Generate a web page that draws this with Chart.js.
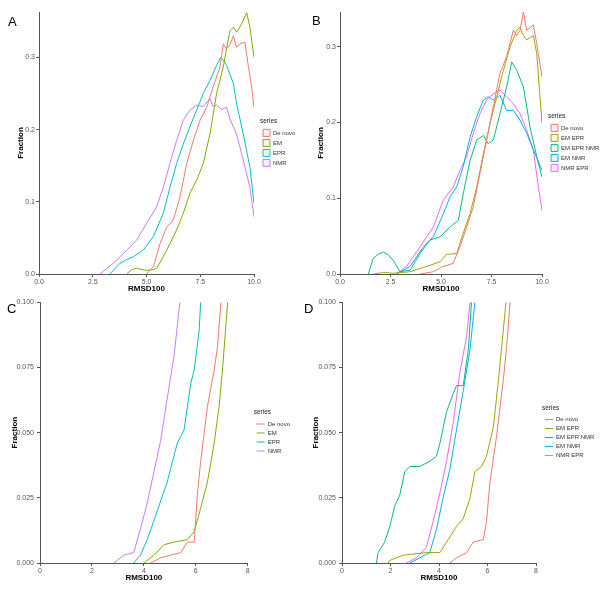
<!DOCTYPE html>
<html>
<head>
<meta charset="utf-8">
<script src="https://cdn.jsdelivr.net/npm/chart.js@4.4.1/dist/chart.umd.min.js"></script>
<style>
  body { margin: 0; background: #fff; }
  #wrap { position: relative; width: 604px; height: 591px; }
  canvas { position: absolute; }
  .tag { position: absolute; font: 13px/13px "Liberation Sans", Arial, sans-serif; color: #000; }
</style>
</head>
<body>
<div id="wrap">
  <canvas id="chartA" width="300" height="295" style="left:0;top:0"></canvas>
  <canvas id="chartB" width="304" height="295" style="left:300px;top:0"></canvas>
  <canvas id="chartC" width="300" height="296" style="left:0;top:295px"></canvas>
  <canvas id="chartD" width="304" height="296" style="left:300px;top:295px"></canvas>
  <div class="tag" style="left:8px;top:15px">A</div>
  <div class="tag" style="left:312px;top:14px">B</div>
  <div class="tag" style="left:7px;top:302px">C</div>
  <div class="tag" style="left:304px;top:302px">D</div>
</div>
<script>
// ---- panel A: fraction by RMSD100, single methods ----
var namesA = ["De novo", "EM", "EPR", "NMR"];
var colorsA = ["#F8766D", "#7CAE00", "#00BFC4", "#C77CFF"];
var aDeNovoX = [5.0, 5.32, 5.63, 5.94, 6.25, 6.56, 6.87, 7.18, 7.49, 7.8, 8.1, 8.42, 8.57, 8.7, 8.88, 9.04, 9.19, 9.35, 9.58, 9.74, 9.89, 10];
var aDeNovoY = [0, 0.01, 0.042, 0.065, 0.075, 0.107, 0.153, 0.185, 0.213, 0.231, 0.259, 0.287, 0.319, 0.312, 0.317, 0.33, 0.314, 0.319, 0.321, 0.287, 0.259, 0.231];
var aEmX = [4.08, 4.3, 4.54, 4.8, 5.0, 5.3, 5.47, 5.78, 6.09, 6.4, 6.71, 7.02, 7.33, 7.64, 7.95, 8.26, 8.57, 8.88, 9.04, 9.19, 9.43, 9.66, 9.81, 10];
var aEmY = [0, 0.006, 0.008, 0.006, 0.005, 0.006, 0.008, 0.024, 0.042, 0.061, 0.084, 0.112, 0.13, 0.153, 0.194, 0.25, 0.287, 0.337, 0.342, 0.335, 0.347, 0.362, 0.342, 0.3];
var aEprX = [3.3, 3.77, 4.08, 4.39, 4.85, 5.32, 5.78, 6.09, 6.4, 6.71, 7.02, 7.33, 7.64, 7.95, 8.26, 8.45, 8.6, 8.73, 9.04, 9.19, 9.5, 9.81, 10];
var aEprY = [0, 0.015, 0.02, 0.024, 0.033, 0.052, 0.084, 0.12, 0.153, 0.18, 0.204, 0.227, 0.25, 0.268, 0.289, 0.3, 0.295, 0.289, 0.264, 0.236, 0.194, 0.148, 0.098];
var aNmrX = [2.84, 3.46, 4.08, 4.54, 5.0, 5.47, 5.78, 6.09, 6.4, 6.71, 7.02, 7.33, 7.64, 7.95, 8.1, 8.26, 8.5, 8.73, 8.88, 9.19, 9.5, 9.81, 10];
var aNmrY = [0, 0.015, 0.033, 0.047, 0.07, 0.093, 0.12, 0.153, 0.185, 0.213, 0.227, 0.234, 0.232, 0.243, 0.232, 0.234, 0.228, 0.231, 0.215, 0.194, 0.158, 0.12, 0.079];

// ---- panel B: combinations ----
var namesB = ["De novo", "EM EPR", "EM EPR NMR", "EM NMR", "NMR EPR"];
var colorsB = ["#F8766D", "#A3A500", "#00BF7D", "#00B0F6", "#E76BF3"];
var bDeNovoX = [3.96, 4.62, 5.1, 5.6, 5.94, 6.27, 6.6, 6.93, 7.26, 7.59, 7.92, 8.25, 8.58, 8.75, 8.91, 9.08, 9.24, 9.4, 9.57, 9.74, 10];
var bDeNovoY = [0, 0.003, 0.01, 0.014, 0.036, 0.062, 0.089, 0.133, 0.177, 0.221, 0.265, 0.287, 0.322, 0.315, 0.322, 0.346, 0.322, 0.325, 0.329, 0.304, 0.26];
var bEmEprX = [1.65, 2.15, 2.64, 3.47, 4.29, 4.95, 5.28, 5.78, 6.1, 6.44, 6.77, 7.1, 7.43, 7.76, 8.09, 8.42, 8.75, 8.91, 9.08, 9.24, 9.57, 9.74, 10];
var bEmEprY = [0, 0.002, 0.001, 0.003, 0.01, 0.016, 0.026, 0.027, 0.054, 0.08, 0.115, 0.159, 0.199, 0.234, 0.269, 0.3, 0.322, 0.326, 0.315, 0.309, 0.315, 0.291, 0.199];
var bEmEprNmrX = [1.4, 1.65, 1.9, 2.15, 2.4, 2.64, 2.97, 3.47, 3.96, 4.46, 4.95, 5.45, 5.86, 6.1, 6.44, 6.77, 7.1, 7.34, 7.59, 7.92, 8.25, 8.5, 8.75, 9.08, 9.41, 9.74, 10];
var bEmEprNmrY = [0, 0.021, 0.026, 0.029, 0.025, 0.018, 0.003, 0.005, 0.027, 0.045, 0.049, 0.062, 0.071, 0.106, 0.15, 0.177, 0.183, 0.172, 0.177, 0.212, 0.247, 0.28, 0.269, 0.247, 0.194, 0.155, 0.128];
var bEmNmrX = [2.8, 3.47, 4.13, 4.62, 5.12, 5.45, 5.78, 6.1, 6.44, 6.77, 7.1, 7.34, 7.59, 7.92, 8.25, 8.58, 8.91, 9.24, 9.57, 10];
var bEmNmrY = [0, 0.01, 0.036, 0.049, 0.08, 0.102, 0.115, 0.142, 0.181, 0.208, 0.23, 0.234, 0.23, 0.236, 0.216, 0.216, 0.203, 0.186, 0.164, 0.137];
var bNmrEprX = [2.8, 3.3, 3.96, 4.62, 5.12, 5.61, 5.94, 6.27, 6.6, 6.93, 7.26, 7.59, 7.92, 8.25, 8.58, 8.91, 9.24, 9.57, 9.82, 10];
var bNmrEprY = [0, 0.01, 0.036, 0.062, 0.098, 0.115, 0.137, 0.155, 0.186, 0.212, 0.23, 0.238, 0.243, 0.234, 0.225, 0.212, 0.19, 0.164, 0.115, 0.084];

// ---- panel C: low end, single methods ----
var cDeNovoX = [4.26, 4.65, 5.03, 5.42, 5.68, 5.94, 6.06, 6.19, 6.45, 6.71, 6.84, 6.97];
var cDeNovoY = [0, 0.002, 0.003, 0.004, 0.008, 0.008, 0.026, 0.039, 0.06, 0.074, 0.083, 0.1];
var cEmX = [4.0, 4.39, 4.77, 5.16, 5.68, 5.94, 6.19, 6.45, 6.71, 6.9, 7.03, 7.23];
var cEmY = [0, 0.003, 0.007, 0.008, 0.009, 0.012, 0.021, 0.031, 0.046, 0.06, 0.074, 0.1];
var cEprX = [3.61, 3.87, 4.13, 4.52, 4.9, 5.29, 5.55, 5.81, 5.94, 6.13, 6.19];
var cEprY = [0, 0.003, 0.009, 0.02, 0.031, 0.046, 0.051, 0.069, 0.074, 0.089, 0.1];
var cNmrX = [2.84, 3.23, 3.61, 3.87, 4.13, 4.39, 4.65, 4.9, 5.16, 5.39];
var cNmrY = [0, 0.003, 0.004, 0.013, 0.023, 0.035, 0.047, 0.063, 0.079, 0.1];

// ---- panel D: low end, combinations ----
var dDeNovoX = [4.45, 4.72, 5.14, 5.41, 5.83, 5.96, 6.1, 6.38, 6.65, 6.79, 6.93];
var dDeNovoY = [0, 0.002, 0.004, 0.008, 0.009, 0.016, 0.031, 0.049, 0.07, 0.083, 0.1];
var dEmEprX = [1.9, 1.97, 2.52, 3.48, 4.04, 4.31, 4.72, 5.0, 5.28, 5.48, 5.76, 5.96, 6.24, 6.45, 6.65, 6.76];
var dEmEprY = [0, 0.001, 0.003, 0.004, 0.004, 0.008, 0.014, 0.017, 0.025, 0.035, 0.037, 0.041, 0.052, 0.07, 0.089, 0.1];
var dEmEprNmrX = [1.42, 1.49, 1.76, 1.97, 2.18, 2.38, 2.59, 2.8, 3.21, 3.62, 3.9, 4.04, 4.31, 4.59, 4.72, 5.0, 5.21, 5.34];
var dEmEprNmrY = [0, 0.004, 0.008, 0.014, 0.022, 0.026, 0.035, 0.037, 0.037, 0.039, 0.041, 0.046, 0.058, 0.065, 0.068, 0.068, 0.082, 0.1];
var dEmNmrX = [2.8, 3.21, 3.62, 3.9, 4.17, 4.45, 4.72, 5.0, 5.28, 5.48];
var dEmNmrY = [0, 0.002, 0.004, 0.013, 0.025, 0.036, 0.051, 0.066, 0.082, 0.1];
var dNmrEprX = [2.66, 3.07, 3.48, 3.76, 4.04, 4.31, 4.59, 4.86, 5.14, 5.28];
var dNmrEprY = [0, 0.002, 0.006, 0.016, 0.027, 0.039, 0.054, 0.073, 0.087, 0.1];

var ticksA = [0, 2.5, 5, 7.5, 10];
var ticksC = [0, 2, 4, 6, 8];

var FONT = "'Liberation Sans', Arial, sans-serif";

function pts(xs, ys) {
    return xs.map(function (x, i) { return { x: x, y: ys[i] }; });
}

function makePanel(id, names, colors, series, o) {
    var ctx = document.getElementById(id).getContext("2d");
    var datasets = names.map(function (n, i) {
        return {
            label: n,
            data: pts(series[i][0], series[i][1]),
            borderColor: colors[i],
            backgroundColor: "#f3f3f3",
            borderWidth: 1,
            pointRadius: 0,
            pointStyle: "line",
            tension: 0,
            fill: false
        };
    });
    var axisLine = { color: "#555", width: 1 };
    return new Chart(ctx, {
        type: "line",
        data: { datasets: datasets },
        options: {
            responsive: false,
            animation: false,
            layout: { padding: { top: o.top, right: 0, left: 0, bottom: o.bottom } },
            scales: {
                x: {
                    type: "linear", min: o.xMin, max: o.xMax,
                    afterBuildTicks: function (s) { s.ticks = o.xTicks.map(function (v) { return { value: v }; }); },
                    afterFit: function (s) { s.height = 21; },
                    border: axisLine,
                    grid: { drawOnChartArea: false, tickLength: 3, color: "#555" },
                    ticks: {
                        padding: 1, color: "#555", font: { size: 7, family: FONT },
                        maxRotation: 0, autoSkip: false,
                        callback: function (v) { return o.xFmt(v); }
                    },
                    title: { display: true, text: "RMSD100", color: "#000", padding: { top: 0, bottom: 1 }, font: { size: 8, weight: "bold", family: FONT } }
                },
                y: {
                    min: 0, max: o.yMax,
                    ticks: {
                        stepSize: o.yStep, includeBounds: false, padding: o.tickPad,
                        color: "#555", font: { size: 7, family: FONT },
                        callback: function (v) { return v.toFixed(o.yDec); }
                    },
                    afterFit: function (s) { s.width = o.yW; },
                    border: axisLine,
                    grid: { drawOnChartArea: false, tickLength: 3, color: "#555" },
                    title: { display: true, text: "Fraction", color: "#000", padding: { top: o.titlePad, bottom: 0 }, font: { size: 8, weight: "bold", family: FONT } }
                },
                // empty right-hand strip between the panel and its legend
                gap: {
                    type: "linear", position: "right", display: true,
                    grid: { display: false }, border: { display: false }, ticks: { display: false },
                    afterFit: function (s) { s.width = 6; }
                }
            },
            plugins: {
                tooltip: { enabled: false },
                legend: {
                    position: "right",
                    fullSize: false,
                    maxWidth: o.legendW,
                    title: { display: true, text: "series", position: "start", color: "#222", font: { size: 6.5, family: FONT }, padding: 1 },
                    labels: {
                        boxWidth: 7, boxHeight: 7, padding: 3, color: "#333",
                        usePointStyle: o.lineKeys, pointStyleWidth: 8,
                        font: { size: 6, family: FONT }
                    }
                }
            }
        }
    });
}

var fmt1 = function (v) { return v.toFixed(1); };
var fmt0 = function (v) { return String(v); };

makePanel("chartA", namesA, colorsA,
    [[aDeNovoX, aDeNovoY], [aEmX, aEmY], [aEprX, aEprY], [aNmrX, aNmrY]],
    { top: 12, bottom: 0, xMin: 0, xMax: 10, xTicks: ticksA, xFmt: fmt1, yMax: 0.363, yStep: 0.1, yDec: 1, yW: 39, titlePad: 16, tickPad: 1, legendW: 40, lineKeys: false });
makePanel("chartB", namesB, colorsB,
    [[bDeNovoX, bDeNovoY], [bEmEprX, bEmEprY], [bEmEprNmrX, bEmEprNmrY], [bEmNmrX, bEmNmrY], [bNmrEprX, bNmrEprY]],
    { top: 12, bottom: 0, xMin: 0, xMax: 10, xTicks: ticksA, xFmt: fmt1, yMax: 0.346, yStep: 0.1, yDec: 1, yW: 40, titlePad: 16, tickPad: 1, legendW: 56, lineKeys: false });
makePanel("chartC", namesA, colorsA,
    [[cDeNovoX, cDeNovoY], [cEmX, cEmY], [cEprX, cEprY], [cNmrX, cNmrY]],
    { top: 5, bottom: 7, xMin: 0, xMax: 8, xTicks: ticksC, xFmt: fmt0, yMax: 0.1, yStep: 0.025, yDec: 3, yW: 40, titlePad: 10, tickPad: 3, legendW: 47, lineKeys: true });
makePanel("chartD", namesB, colorsB,
    [[dDeNovoX, dDeNovoY], [dEmEprX, dEmEprY], [dEmEprNmrX, dEmEprNmrY], [dEmNmrX, dEmNmrY], [dNmrEprX, dNmrEprY]],
    { top: 5, bottom: 7, xMin: 0, xMax: 8, xTicks: ticksC, xFmt: fmt0, yMax: 0.1, yStep: 0.025, yDec: 3, yW: 42, titlePad: 11, tickPad: 3, legendW: 62, lineKeys: true });
</script>
</body>
</html>
